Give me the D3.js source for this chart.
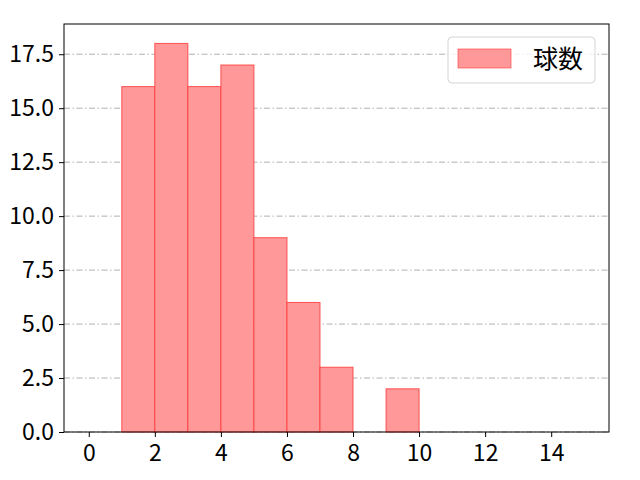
<!DOCTYPE html>
<html>
<head>
<meta charset="utf-8">
<script src="https://cdn.jsdelivr.net/npm/d3@7"></script>
<style>
  body { margin: 0; background: #fff; }
  text { font-family: "Noto Sans CJK JP", "Noto Sans", sans-serif; }
</style>
</head>
<body>
<div class="chart-area"></div>
<script>
// ビンの左端・右端と度数
var binStart = [1, 2, 3, 4, 5, 6, 7, 8, 9];
var binEnd   = [2, 3, 4, 5, 6, 7, 8, 9, 10];
var counts   = [16, 18, 16, 17, 9, 6, 3, 0, 2];
var xTicks = [0, 2, 4, 6, 8, 10, 12, 14];
var yTicks = [0, 2.5, 5, 7.5, 10, 12.5, 15, 17.5];
var seriesName = "球数";

var width = 640,
    height = 480;
var margin = {left: 64, right: 31, top: 24, bottom: 48};

var svg = d3.select('.chart-area')
    .append("svg")
    .attr("width", width)
    .attr("height", height);

var x = d3.scaleLinear()
    .domain([-0.75, 15.75])
    .range([margin.left, width - margin.right]);

var y = d3.scaleLinear()
    .domain([0, 18.9])
    .range([height - margin.bottom, margin.top]);

// グリッド線（横のみ、一点鎖線）
svg.append("g")
    .selectAll("line")
    .data(yTicks)
    .enter().append("line")
    .attr("x1", margin.left)
    .attr("x2", width - margin.right)
    .attr("y1", function(d) { return y(d); })
    .attr("y2", function(d) { return y(d); })
    .attr("stroke", "#b0b0b0")
    .attr("stroke-width", 1)
    .attr("stroke-dasharray", "6,2.5,1.5,2.5");

// 棒
var bins = binStart.map(function(s, i) {
    return {x0: s, x1: binEnd[i], n: counts[i]};
}).filter(function(d) { return d.n > 0; });

svg.append("g")
    .selectAll("rect")
    .data(bins)
    .enter().append("rect")
    .attr("x", function(d) { return x(d.x0); })
    .attr("width", function(d) { return x(d.x1) - x(d.x0); })
    .attr("y", function(d) { return y(d.n); })
    .attr("height", function(d) { return y(0) - y(d.n); })
    .attr("fill", "#ff9999")
    .attr("stroke", "#ff3b3b")
    .attr("stroke-opacity", 0.85)
    .attr("stroke-width", 1);

// 軸
var xAxis = svg.append("g")
    .attr("transform", "translate(0," + (height - margin.bottom) + ")")
    .call(d3.axisBottom(x).tickValues(xTicks).tickSize(5).tickPadding(8).tickFormat(d3.format("d")));

var yAxis = svg.append("g")
    .attr("transform", "translate(" + margin.left + ",0)")
    .call(d3.axisLeft(y).tickValues(yTicks).tickSize(5).tickPadding(5).tickFormat(d3.format(".1f")));

[xAxis, yAxis].forEach(function(a) {
    a.select(".domain").remove();
    a.selectAll("text").attr("font-size", 23).attr("fill", "#000")
        .style("font-family", '"Noto Sans CJK JP", sans-serif');
    a.selectAll("line").attr("stroke", "#000");
});

// 枠
svg.append("rect")
    .attr("x", margin.left)
    .attr("y", margin.top)
    .attr("width", width - margin.left - margin.right)
    .attr("height", height - margin.top - margin.bottom)
    .attr("fill", "none")
    .attr("stroke", "#000")
    .attr("stroke-width", 1);

// 凡例
var legend = svg.append("g");
legend.append("rect")
    .attr("x", 448).attr("y", 37)
    .attr("width", 147).attr("height", 46)
    .attr("rx", 4)
    .attr("fill", "#fff").attr("fill-opacity", 0.8)
    .attr("stroke", "#d5d5d5");
legend.append("rect")
    .attr("x", 458).attr("y", 49)
    .attr("width", 53).attr("height", 19)
    .attr("fill", "#ff9999")
    .attr("stroke", "#ff3b3b").attr("stroke-opacity", 0.6);
legend.append("text")
    .attr("x", 533).attr("y", 68)
    .attr("font-size", 25)
    .attr("fill", "#000")
    .text(seriesName);
</script>
</body>
</html>
